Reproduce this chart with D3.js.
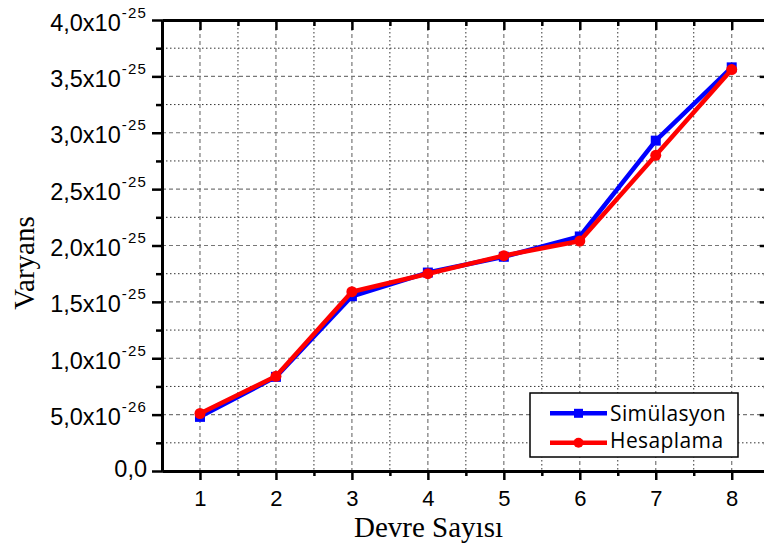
<!DOCTYPE html>
<html>
<head>
<meta charset="utf-8">
<script src="https://cdn.jsdelivr.net/npm/d3@7"></script>
<style>
  html, body { margin: 0; padding: 0; background: #fff; }
  svg { display: block; }
</style>
</head>
<body>
<svg id="chart" width="764" height="547"></svg>
<script>
// Circuit count vs. variance: simulation vs. calculation
const circuits = [1, 2, 3, 4, 5, 6, 7, 8];
const simulation = [4.8e-26, 8.35e-26, 1.55e-25, 1.76e-25, 1.90e-25, 2.08e-25, 2.93e-25, 3.58e-25];
const calculation = [5.1e-26, 8.4e-26, 1.59e-25, 1.75e-25, 1.91e-25, 2.04e-25, 2.80e-25, 3.56e-25];
const yMajorTicks = [0, 0.5e-25, 1.0e-25, 1.5e-25, 2.0e-25, 2.5e-25, 3.0e-25, 3.5e-25, 4.0e-25];
const yMinorTicks = [0.25e-25, 0.75e-25, 1.25e-25, 1.75e-25, 2.25e-25, 2.75e-25, 3.25e-25, 3.75e-25];
const xMinorTicks = [1.5, 2.5, 3.5, 4.5, 5.5, 6.5, 7.5];
const seriesNames = ["Simülasyon", "Hesaplama"];
const xTitle = "Devre Sayısı";
const yTitle = "Varyans";

const svg = d3.select("#chart");
const pLeft = 162, pRight = 769.7, pTop = 20, pBottom = 471;

const x = d3.scaleLinear().domain([0.5, 8.5]).range([pLeft, pRight]);
const y = d3.scaleLinear().domain([0, 4e-25]).range([pBottom, pTop]);

// grid
const grid = svg.append("g");
grid.selectAll(".hmin").data(yMinorTicks).join("line")
  .attr("x1", pLeft).attr("x2", pRight)
  .attr("y1", d => y(d)).attr("y2", d => y(d))
  .attr("stroke", "#333").attr("stroke-width", 1).attr("stroke-dasharray", "1.5,2.5");
grid.selectAll(".hmaj").data(yMajorTicks.filter(d => d > 0 && d < 4e-25)).join("line")
  .attr("x1", pLeft).attr("x2", pRight)
  .attr("y1", d => y(d)).attr("y2", d => y(d))
  .attr("stroke", "#777").attr("stroke-width", 1.2).attr("stroke-dasharray", "4,3");
grid.selectAll(".vmin").data(xMinorTicks).join("line")
  .attr("y1", pTop).attr("y2", pBottom)
  .attr("x1", d => x(d)).attr("x2", d => x(d))
  .attr("stroke", "#333").attr("stroke-width", 1).attr("stroke-dasharray", "1.5,2.5");
grid.selectAll(".vmaj").data(circuits).join("line")
  .attr("y1", pTop).attr("y2", pBottom)
  .attr("x1", d => x(d)).attr("x2", d => x(d))
  .attr("stroke", "#777").attr("stroke-width", 1.2).attr("stroke-dasharray", "4,3");

// axes
function styleAxis(g) {
  g.select(".domain").attr("stroke", "#000").attr("stroke-width", 3);
  g.selectAll(".tick line").attr("stroke", "#000").attr("stroke-width", 2.5);
}

const fmtY = v => {
  if (v === 0) return { m: "0,0", e: null };
  const e = Math.floor(Math.log10(v) + 1e-9);
  const m = (v / Math.pow(10, e)).toFixed(1).replace(".", ",");
  return { m: m + "x10", e: String(e) };
};

// left (major + labels)
const gLeft = svg.append("g").attr("transform", `translate(${pLeft},0)`)
  .call(d3.axisLeft(y).tickValues(yMajorTicks).tickSize(10).tickSizeOuter(0).tickFormat(""));
styleAxis(gLeft);
gLeft.selectAll(".tick").each(function(d) {
  const t = d3.select(this).select("text");
  t.attr("x", -15).attr("dy", null).attr("text-anchor", "end")
   .attr("font-family", "'Liberation Sans', Arial, sans-serif").attr("font-size", 23.5).attr("fill", "#000");
  const f = fmtY(d);
  if (f.e === null) {
    t.attr("y", 5.5);
    t.append("tspan").text(f.m);
  } else {
    t.attr("y", 10);
    t.append("tspan").text(f.m);
    t.append("tspan").attr("font-size", 15).attr("dy", -13).attr("dx", 1).attr("letter-spacing", 1.2).text(f.e);
  }
});
const gLeftMin = svg.append("g").attr("transform", `translate(${pLeft},0)`)
  .call(d3.axisLeft(y).tickValues(yMinorTicks).tickSize(6).tickSizeOuter(0).tickFormat(""));
styleAxis(gLeftMin);

// bottom
const gBottom = svg.append("g").attr("transform", `translate(0,${pBottom})`)
  .call(d3.axisBottom(x).tickValues(circuits).tickSize(9).tickSizeOuter(0).tickFormat(d3.format("d")));
styleAxis(gBottom);
gBottom.selectAll(".tick text").attr("y", 35).attr("dy", null)
  .attr("font-family", "'Liberation Sans', Arial, sans-serif").attr("font-size", 22).attr("fill", "#000");
const gBottomMin = svg.append("g").attr("transform", `translate(0,${pBottom})`)
  .call(d3.axisBottom(x).tickValues(xMinorTicks).tickSize(5).tickSizeOuter(0).tickFormat(""));
styleAxis(gBottomMin);

// top (inward ticks)
const gTop = svg.append("g").attr("transform", `translate(0,${pTop})`)
  .call(d3.axisTop(x).tickValues(circuits).tickSize(-10).tickSizeOuter(0).tickFormat(""));
styleAxis(gTop);
const gTopMin = svg.append("g").attr("transform", `translate(0,${pTop})`)
  .call(d3.axisTop(x).tickValues(xMinorTicks).tickSize(-6).tickSizeOuter(0).tickFormat(""));
styleAxis(gTopMin);

// right (inward ticks)
const gRight = svg.append("g").attr("transform", `translate(${pRight},0)`)
  .call(d3.axisRight(y).tickValues(yMajorTicks).tickSize(-10).tickSizeOuter(0).tickFormat(""));
styleAxis(gRight);
const gRightMin = svg.append("g").attr("transform", `translate(${pRight},0)`)
  .call(d3.axisRight(y).tickValues(yMinorTicks).tickSize(-6).tickSizeOuter(0).tickFormat(""));
styleAxis(gRightMin);

// axis titles
svg.append("text")
  .attr("x", 428.5).attr("y", 537)
  .attr("text-anchor", "middle")
  .attr("font-family", "'Liberation Serif', 'Times New Roman', serif")
  .attr("font-size", 29).attr("fill", "#000")
  .text(xTitle);
svg.append("text")
  .attr("transform", "translate(34,263) rotate(-90)")
  .attr("text-anchor", "middle")
  .attr("font-family", "'Liberation Serif', 'Times New Roman', serif")
  .attr("font-size", 29).attr("fill", "#000")
  .text(yTitle);

// series
const line = d3.line().x((d, i) => x(circuits[i])).y(d => y(d));
const plot = svg.append("g");

plot.append("path").datum(simulation)
  .attr("d", line).attr("fill", "none").attr("stroke", "#0000ff").attr("stroke-width", 4.5)
  .attr("stroke-linejoin", "round");
plot.selectAll(".sq").data(simulation).join("rect")
  .attr("x", (d, i) => x(circuits[i]) - 5).attr("y", d => y(d) - 5)
  .attr("width", 10).attr("height", 10).attr("fill", "#0000ff");

plot.append("path").datum(calculation)
  .attr("d", line).attr("fill", "none").attr("stroke", "#ff0000").attr("stroke-width", 4.5)
  .attr("stroke-linejoin", "round");
plot.selectAll(".ci").data(calculation).join("circle")
  .attr("cx", (d, i) => x(circuits[i])).attr("cy", d => y(d))
  .attr("r", 5.5).attr("fill", "#ff0000");

// legend
const lg = svg.append("g");
lg.append("rect").attr("x", 530).attr("y", 393).attr("width", 208).attr("height", 64)
  .attr("fill", "#fff").attr("stroke", "#000").attr("stroke-width", 1.5);
const rows = [
  { name: seriesNames[0], color: "#0000ff", shape: "square", cy: 413.3, by: 420.5 },
  { name: seriesNames[1], color: "#ff0000", shape: "circle", cy: 442.7, by: 447.5 }
];
rows.forEach(r => {
  lg.append("line").attr("x1", 550).attr("x2", 607).attr("y1", r.cy).attr("y2", r.cy)
    .attr("stroke", r.color).attr("stroke-width", 4.5);
  if (r.shape === "square") {
    lg.append("rect").attr("x", 578.5 - 4.5).attr("y", r.cy - 4.5).attr("width", 9).attr("height", 9).attr("fill", r.color);
  } else {
    lg.append("circle").attr("cx", 578.5).attr("cy", r.cy).attr("r", 5).attr("fill", r.color);
  }
  lg.append("text").attr("x", 610).attr("y", r.by)
    .attr("font-family", "'Open Sans', 'Noto Sans', sans-serif").attr("font-size", 21).attr("letter-spacing", 0.4).attr("fill", "#000")
    .text(r.name);
});
</script>
</body>
</html>
